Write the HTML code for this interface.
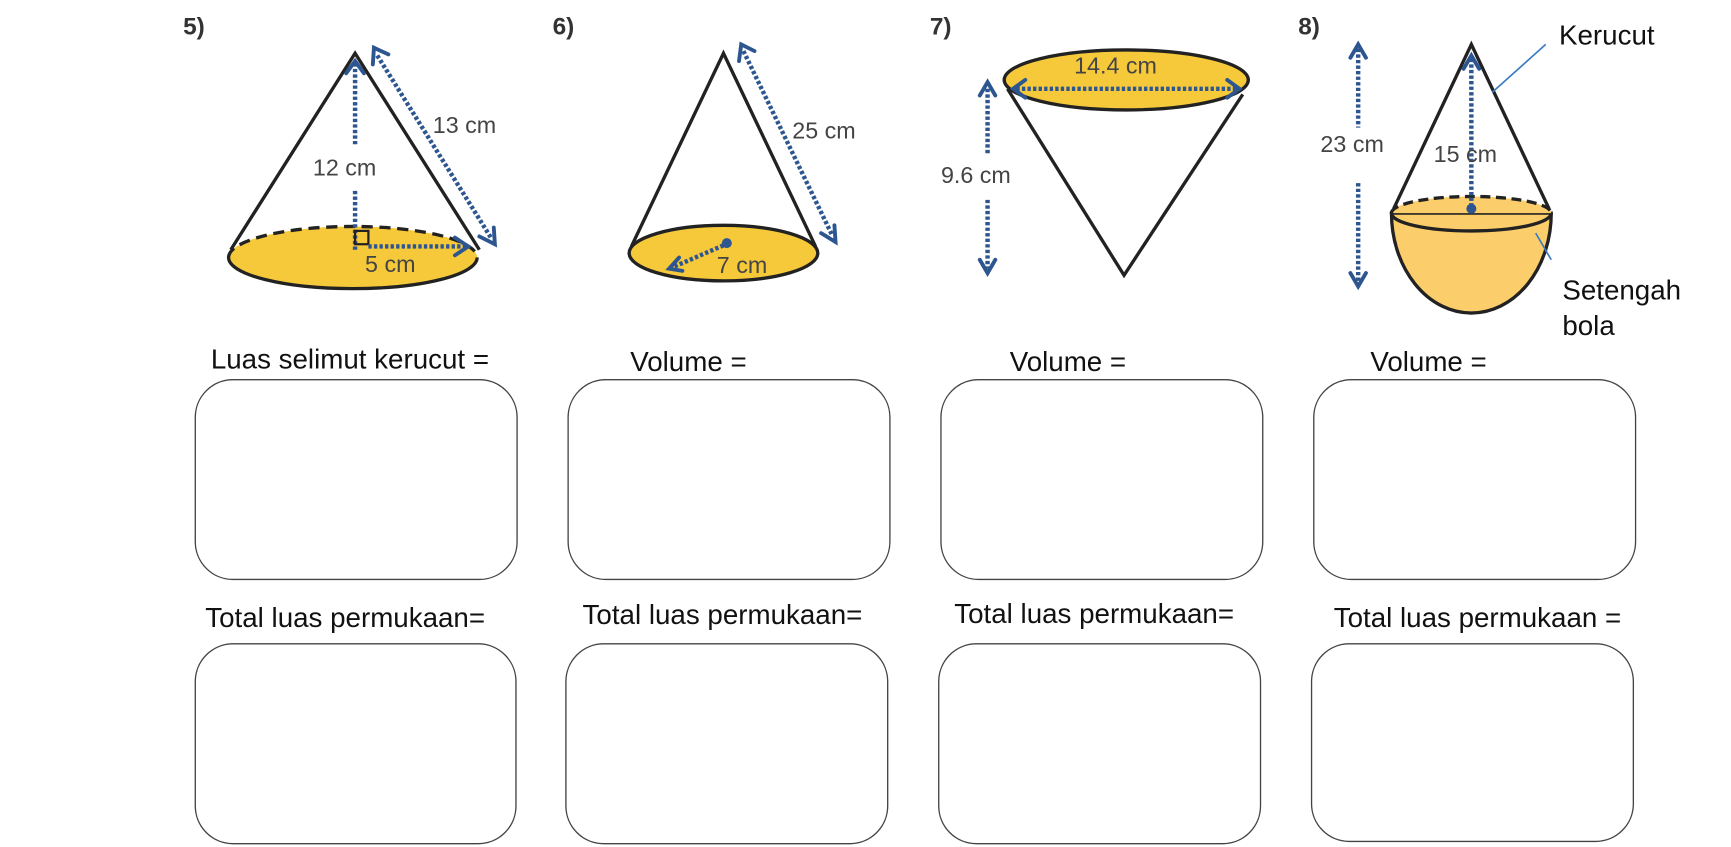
<!DOCTYPE html>
<html><head><meta charset="utf-8"><style>
html,body{margin:0;padding:0;background:#fff;width:1731px;height:847px;overflow:hidden}
svg{display:block}
.h{font-family:"Liberation Sans",sans-serif;font-size:25px;fill:#111}
.m{font-family:"Liberation Sans",sans-serif;font-size:21px;fill:#444}
.n{font-family:"Liberation Sans",sans-serif;font-size:22px;fill:#333;font-weight:bold}
.b{fill:#fff;stroke:#444;stroke-width:1.2}
.d{stroke:#2d5590;stroke-width:4;stroke-dasharray:3 2;fill:none}
.a{stroke:#2d5590;stroke-width:3.5;fill:none;stroke-linecap:round}
.k{stroke:#222;stroke-width:3;fill:none}
</style></head><body>
<svg width="1731" height="847" viewBox="0 0 1560 763" preserveAspectRatio="none">
<text class="n" x="165" y="31">5)</text>
<text class="n" x="498" y="31">6)</text>
<text class="n" x="838" y="31">7)</text>
<text class="n" x="1170" y="31">8)</text>

<!-- Fig 5 -->
<ellipse cx="318" cy="232" rx="112" ry="28" fill="#f6c93b" stroke="none"/>
<path d="M206,232 A112,28 0 0 0 430,232" class="k"/>
<path d="M206,232 A112,28 0 0 1 430,232" class="k" stroke-dasharray="10 6"/>
<path d="M208,225 L320,48 L432,225" class="k"/>
<line x1="320" y1="225" x2="320" y2="172" class="d"/>
<line x1="320" y1="130" x2="320" y2="58" class="d"/>
<path d="M312,66 L320,55 L328,66" class="a"/>
<rect x="320" y="208" width="12" height="12" fill="none" stroke="#222" stroke-width="2"/>
<line x1="332" y1="222" x2="420" y2="222" class="d"/>
<path d="M410,214 L422,222 L410,230" class="a"/>
<text class="m" x="329" y="245">5 cm</text>
<text class="m" x="282" y="158">12 cm</text>
<line x1="340" y1="50" x2="443" y2="215" class="d"/>
<path d="M336,58 L337,43 L350,49" class="a"/>
<path d="M432,213 L446,220 L445,205" class="a"/>
<text class="m" x="390" y="120">13 cm</text>

<!-- Fig 6 -->
<ellipse cx="652" cy="228" rx="85" ry="25" fill="#f6c93b" stroke="#222" stroke-width="3"/>
<path d="M569,222 L652,48 L735,222" class="k"/>
<line x1="670" y1="46" x2="750" y2="212" class="d"/>
<path d="M666,55 L668,40 L680,46" class="a"/>
<path d="M740,210 L753,218 L752,203" class="a"/>
<text class="m" x="714" y="125">25 cm</text>
<circle cx="655" cy="219" r="4.5" fill="#2d5590"/>
<line x1="652" y1="221" x2="608" y2="240" class="d"/>
<path d="M612,232 L603,242 L615,244" class="a"/>
<text class="m" x="646" y="246">7 cm</text>

<!-- Fig 7 -->
<path d="M908,80 L1013,248 L1120,85" class="k"/>
<ellipse cx="1015" cy="72" rx="110" ry="27" fill="#f6c93b" stroke="#222" stroke-width="3"/>
<line x1="916" y1="80" x2="1114" y2="80" class="d"/>
<path d="M924,72 L913,80 L924,88" class="a"/>
<path d="M1106,72 L1117,80 L1106,88" class="a"/>
<text class="m" x="968" y="66">14.4 cm</text>
<line x1="890" y1="80" x2="890" y2="140" class="d"/>
<line x1="890" y1="180" x2="890" y2="242" class="d"/>
<path d="M883,86 L890,74 L897,86" class="a"/>
<path d="M883,234 L890,246 L897,234" class="a"/>
<text class="m" x="848" y="165">9.6 cm</text>

<!-- Fig 8 -->
<path d="M1254,192 A72,90 0 0 0 1398,192 Z" fill="#fbcd6b" stroke="#222" stroke-width="3"/>
<path d="M1254,192 A72,15 0 0 1 1398,192" fill="#fbcd6b" stroke="#222" stroke-width="3" stroke-dasharray="9 5"/>
<path d="M1254,192 A72,16 0 0 0 1398,192" fill="none" stroke="#222" stroke-width="3"/>
<path d="M1256,188 L1326,40 L1396,188" class="k"/>
<line x1="1326" y1="186" x2="1326" y2="52" class="d"/>
<path d="M1319,62 L1326,50 L1333,62" class="a"/>
<circle cx="1326" cy="188" r="4.5" fill="#2d5590"/>
<text class="m" x="1292" y="146">15 cm</text>
<line x1="1224" y1="44" x2="1224" y2="115" class="d"/>
<line x1="1224" y1="165" x2="1224" y2="255" class="d"/>
<path d="M1217,52 L1224,40 L1231,52" class="a"/>
<path d="M1217,246 L1224,258 L1231,246" class="a"/>
<text class="m" x="1190" y="137">23 cm</text>
<line x1="1345" y1="83" x2="1393" y2="40" stroke="#3a7cc0" stroke-width="1.5"/>
<line x1="1384" y1="210" x2="1398" y2="234" stroke="#3a7cc0" stroke-width="1.5"/>
<text class="h" x="1405" y="40">Kerucut</text>
<text class="h" x="1408" y="270">Setengah</text>
<text class="h" x="1408" y="302">bola</text>

<text class="h" x="190" y="332">Luas selimut kerucut =</text>
<text class="h" x="568" y="334">Volume =</text>
<text class="h" x="910" y="334">Volume =</text>
<text class="h" x="1235" y="334">Volume =</text>
<rect class="b" x="176" y="342" width="290" height="180" rx="34"/>
<rect class="b" x="512" y="342" width="290" height="180" rx="34"/>
<rect class="b" x="848" y="342" width="290" height="180" rx="34"/>
<rect class="b" x="1184" y="342" width="290" height="180" rx="34"/>

<text class="h" x="185" y="565">Total luas permukaan=</text>
<text class="h" x="525" y="562">Total luas permukaan=</text>
<text class="h" x="860" y="561">Total luas permukaan=</text>
<text class="h" x="1202" y="565">Total luas permukaan =</text>
<rect class="b" x="176" y="580" width="289" height="180" rx="34"/>
<rect class="b" x="510" y="580" width="290" height="180" rx="34"/>
<rect class="b" x="846" y="580" width="290" height="180" rx="34"/>
<rect class="b" x="1182" y="580" width="290" height="178" rx="34"/>
</svg>
</body></html>
